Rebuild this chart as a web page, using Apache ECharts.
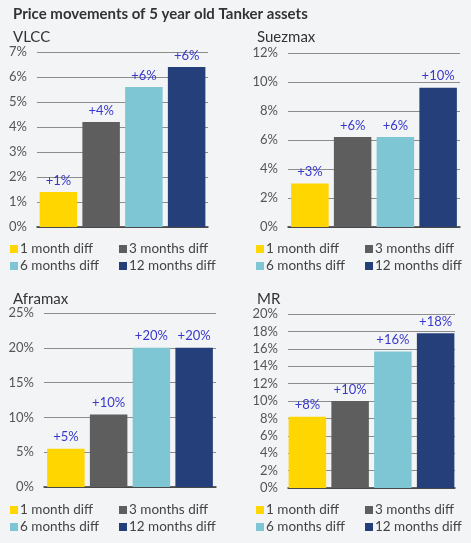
<!DOCTYPE html>
<html><head><meta charset="utf-8">
<script src="https://cdn.jsdelivr.net/npm/echarts@6/dist/echarts.min.js"></script>
<style>html,body{margin:0;padding:0;background:#f3f4f6;}#c{width:471px;height:543px;}</style>
</head><body><div id="c"></div>
<script>
const seriesNames = ['1 month diff', '3 months diff', '6 months diff', '12 months diff'];
const colors = ['#ffd600', '#5e5e5e', '#7ec6d3', '#253f7b'];
const panelNames = ['VLCC', 'Suezmax', 'Aframax', 'MR'];
const vlcc = [1.4, 4.2, 5.6, 6.4];
const suezmax = [3.0, 6.2, 6.2, 9.6];
const aframax = [5.5, 10.4, 20.0, 20.0];
const mr = [8.2, 10.0, 15.7, 17.8];
const vlccLabels = ['+1%', '+4%', '+6%', '+6%'];
const suezmaxLabels = ['+3%', '+6%', '+6%', '+10%'];
const aframaxLabels = ['+5%', '+10%', '+20%', '+20%'];
const mrLabels = ['+8%', '+10%', '+16%', '+18%'];
const yMax = [7, 12, 25, 20];
const yInterval = [1, 2, 5, 2];

const panelData = [vlcc, suezmax, aframax, mr];
const panelLabels = [vlccLabels, suezmaxLabels, aframaxLabels, mrLabels];

const grids = [
  {left: 37, right: 263, top: 52, bottom: 316},
  {left: 288, right: 11, top: 53, bottom: 316},
  {left: 44, right: 255, top: 313, bottom: 56},
  {left: 288, right: 16, top: 314, bottom: 55}
];
const titlePos = [[8, 25], [252, 25], [8, 287], [252, 287]];
const legendCols = [[10, 119], [256, 365], [10, 119], [256, 365]];
const legendRows = [[242, 259], [242, 259], [503, 520], [503, 520]];

const font = 'Lato, "Noto Sans", sans-serif';
const option = {
  backgroundColor: '#f3f4f6',
  animation: false,
  textStyle: {fontFamily: font},
  title: [{text: 'Price movements of 5 year old Tanker assets', left: 8, top: 2,
    textStyle: {fontFamily: font, fontSize: 15, fontWeight: 'bold', color: '#333'}}],
  grid: [], xAxis: [], yAxis: [], series: [], legend: []
};
for (let p = 0; p < 4; p++) {
  option.title.push({text: panelNames[p], left: titlePos[p][0], top: titlePos[p][1],
    textStyle: {fontFamily: font, fontSize: 15, fontWeight: 'normal', color: '#333'}});
  option.grid.push(grids[p]);
  option.xAxis.push({type: 'category', gridIndex: p, data: [''],
    axisLine: {lineStyle: {color: '#333', width: 1.5}}, axisTick: {show: false}, axisLabel: {show: false}});
  option.yAxis.push({type: 'value', gridIndex: p, min: 0, max: yMax[p], interval: yInterval[p],
    axisLine: {show: false}, axisTick: {show: false},
    axisLabel: {formatter: '{value}%', color: '#555', fontSize: 13, fontFamily: font, margin: 10},
    splitLine: {lineStyle: {color: '#8c8c8c', width: 1}}});
  for (let s = 0; s < 4; s++) {
    option.series.push({
      type: 'bar', name: seriesNames[s], xAxisIndex: p, yAxisIndex: p,
      data: [panelData[p][s]], barWidth: 37.5, barGap: '14%',
      itemStyle: {color: colors[s]},
      label: {show: true, position: 'top', distance: 5, color: '#3838cc', fontSize: 13, fontFamily: font,
        formatter: ((lbl) => () => lbl)(panelLabels[p][s])}
    });
    const col = s % 2, row = Math.floor(s / 2);
    option.legend.push({
      data: [seriesNames[s]], left: legendCols[p][col], top: legendRows[p][row],
      itemWidth: 8, itemHeight: 8, icon: 'rect', padding: 0,
      textStyle: {fontFamily: font, fontSize: 13.5, color: '#444', padding: [0, 0, 0, -3]},
      selectedMode: false
    });
  }
}
echarts.init(document.getElementById('c')).setOption(option);
</script></body></html>
